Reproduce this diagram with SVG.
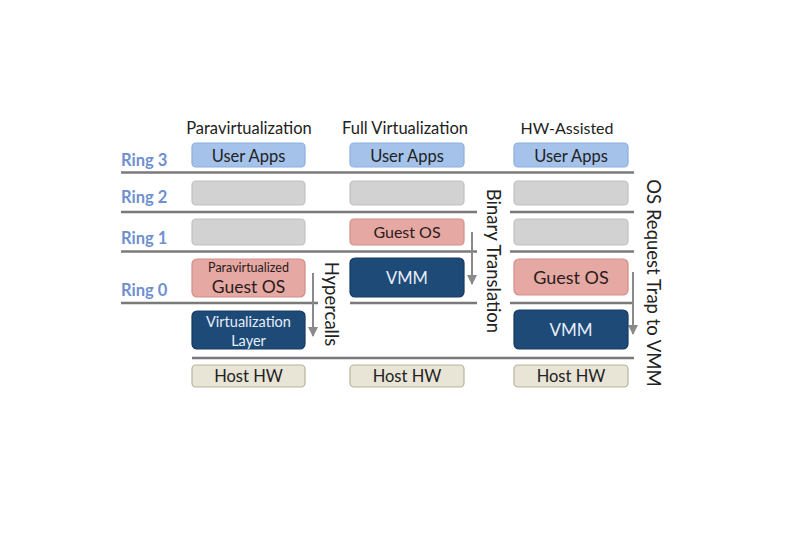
<svg xmlns="http://www.w3.org/2000/svg" width="795" height="546" viewBox="0 0 795 546">
<style>
text{font-family:Lato,"Open Sans","Liberation Sans",sans-serif;text-anchor:middle}
.t{font-size:16.5px;fill:#222}
.ring{font-size:16.5px;font-weight:bold;fill:#6f8fcf;text-anchor:start}
.ua{fill:#a5c3ea;stroke:#8cafdf;stroke-width:1.2}
.gr{fill:#d2d2d2;stroke:#c0c0c0;stroke-width:1.2}
.pk{fill:#e5a8a3;stroke:#d38e88;stroke-width:1.2}
.nv{fill:#1e4a78;stroke:#163a60;stroke-width:1.2}
.hw{fill:#e8e5d7;stroke:#b6b29b;stroke-width:1.2}
.dk{fill:#2a1c1c}
.wt{fill:#e8eef8}
.ln{stroke:#7a7a7a;stroke-width:2.5;fill:none}
.ar{stroke:#8a8a8a;stroke-width:2;fill:none;marker-end:url(#ah)}
.rot{font-size:18.5px;fill:#222}
</style>
<defs>
<marker id="ah" viewBox="0 0 10 10" refX="9" refY="5" markerWidth="5" markerHeight="5" orient="auto"><path d="M0,0L10,5L0,10z" fill="#8a8a8a"/></marker>
</defs>
<rect width="795" height="546" fill="#fff"/>
<g id="titles">
<text class="t" x="249" y="134">Paravirtualization</text>
<text class="t" x="405" y="134">Full Virtualization</text>
<text class="t" x="567" y="134" style="font-size:16px">HW-Assisted</text>
</g>
<g id="rings">
<text class="ring" x="121" y="166">Ring 3</text>
<text class="ring" x="121" y="203">Ring 2</text>
<text class="ring" x="121" y="244">Ring 1</text>
<text class="ring" x="121" y="296">Ring 0</text>
</g>
<g id="connectors">
<line class="ln" x1="121" y1="172.5" x2="634" y2="172.5"/>
<line class="ln" x1="121" y1="212" x2="477" y2="212"/>
<line class="ln" x1="510" y1="212" x2="634" y2="212"/>
<line class="ln" x1="121" y1="251.5" x2="477" y2="251.5"/>
<line class="ln" x1="510" y1="251.5" x2="634" y2="251.5"/>
<line class="ln" x1="121" y1="303" x2="318" y2="303"/>
<line class="ln" x1="350" y1="303" x2="477" y2="303"/>
<line class="ln" x1="510" y1="303" x2="634" y2="303"/>
<line class="ln" x1="192" y1="358" x2="634" y2="358"/>
<line class="ar" x1="313" y1="273" x2="313" y2="336"/>
<line class="ar" x1="472" y1="232" x2="472" y2="284"/>
<line class="ar" x1="633" y1="272" x2="633" y2="334"/>
<text class="rot" transform="translate(325,304) rotate(90)">Hypercalls</text>
<text class="rot" transform="translate(487,261) rotate(90)">Binary Translation</text>
<text class="rot" transform="translate(647,283) rotate(90)">OS Request Trap to VMM</text>
</g>
<g id="para-userapps"><rect class="ua" x="192" y="143" width="113" height="24" rx="4"/><text class="t" x="248.5" y="161.5">User Apps</text></g>
<g id="para-ring2"><rect class="gr" x="192" y="181" width="113" height="24" rx="4"/></g>
<g id="para-ring1"><rect class="gr" x="192" y="219" width="113" height="26" rx="4"/></g>
<g id="para-guestos"><rect class="pk" x="192" y="259" width="113" height="38" rx="5"/><text class="dk" x="248.5" y="272" style="font-size:12.5px">Paravirtualized</text><text class="dk" x="248.5" y="293" style="font-size:17.5px">Guest OS</text></g>
<g id="para-vlayer"><rect class="nv" x="192" y="311" width="113" height="38" rx="5"/><text class="wt" x="248.5" y="327" style="font-size:14.5px">Virtualization</text><text class="wt" x="248.5" y="346" style="font-size:14.5px">Layer</text></g>
<g id="para-hosthw"><rect class="hw" x="192" y="365" width="113" height="22" rx="4"/><text class="t" x="248.5" y="382" style="font-size:16.5px">Host HW</text></g>

<g id="full-userapps"><rect class="ua" x="350" y="143" width="114" height="24" rx="4"/><text class="t" x="407" y="161.5">User Apps</text></g>
<g id="full-ring2"><rect class="gr" x="350" y="181" width="114" height="24" rx="4"/></g>
<g id="full-guestos"><rect class="pk" x="350" y="219" width="114" height="26" rx="4"/><text class="dk" x="407" y="238" style="font-size:16px">Guest OS</text></g>
<g id="full-vmm"><rect class="nv" x="350" y="258" width="114" height="39" rx="5"/><text class="wt" x="407" y="283.5" style="font-size:16.5px">VMM</text></g>
<g id="full-hosthw"><rect class="hw" x="350" y="365" width="114" height="22" rx="4"/><text class="t" x="407" y="382" style="font-size:16.5px">Host HW</text></g>

<g id="hw-userapps"><rect class="ua" x="514" y="143" width="114" height="24" rx="4"/><text class="t" x="571" y="161.5">User Apps</text></g>
<g id="hw-ring2"><rect class="gr" x="514" y="181" width="114" height="24" rx="4"/></g>
<g id="hw-ring1"><rect class="gr" x="514" y="219" width="114" height="26" rx="4"/></g>
<g id="hw-guestos"><rect class="pk" x="514" y="259" width="114" height="36" rx="5"/><text class="dk" x="571" y="283.5" style="font-size:18px">Guest OS</text></g>
<g id="hw-vmm"><rect class="nv" x="514" y="310" width="114" height="39" rx="5"/><text class="wt" x="571" y="335.5" style="font-size:17px">VMM</text></g>
<g id="hw-hosthw"><rect class="hw" x="514" y="365" width="114" height="22" rx="4"/><text class="t" x="571" y="382" style="font-size:16.5px">Host HW</text></g>
</svg>
